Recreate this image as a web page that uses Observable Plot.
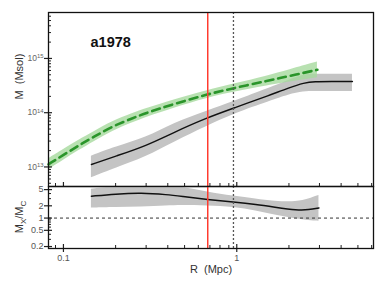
<!DOCTYPE html>
<html><head><meta charset="utf-8">
<script src="https://cdn.jsdelivr.net/npm/d3@7"></script>
<script src="https://cdn.jsdelivr.net/npm/@observablehq/plot@0.6"></script>
<style>
body{margin:0;background:#fff;}
#c{position:relative;width:385px;height:289px;font-family:"Liberation Sans",Arial,sans-serif;}
#c svg{position:absolute;left:0;overflow:visible;}
</style></head><body><div id="c"></div>
<script>
// ---------- text ----------
const title = "a1978";
const xLabel = "R\u00a0 (Mpc)";
const yLabel = "M\u00a0 (Msol)";
const ratioLabelParts = ["M", "X", "/M", "C"];
// ---------- ticks ----------
const xTickValues = [0.1, 1];
const xTickLabels = ["0.1", "1"];
const xMinorTicks = [0.09, 0.2, 0.3, 0.4, 0.5, 0.6, 0.7, 0.8, 0.9, 2, 3, 4, 5, 6];
const yTickValues = [1e13, 1e14, 1e15];
const yTickLabels = ["10^13", "10^14", "10^15"];
const yMinorTicks = [5e12, 6e12, 7e12, 8e12, 9e12, 2e13, 3e13, 4e13, 5e13, 6e13, 7e13, 8e13, 9e13,
  2e14, 3e14, 4e14, 5e14, 6e14, 7e14, 8e14, 9e14, 2e15, 3e15, 4e15, 5e15, 6e15];
const ratioTickValues = [0.2, 0.5, 1, 2, 5];
const ratioTickLabels = ["0.2", "0.5", "1", "2", "5"];
const ratioMinorTicks = [0.3, 0.4, 0.6, 0.7, 0.8, 0.9, 3, 4];
// ---------- data ----------
// green dashed profile with band
const greenR  = [0.082, 0.1, 0.123, 0.15, 0.192, 0.25, 0.3, 0.435, 0.677, 0.965, 1.5, 2.0, 2.92];
const greenM  = [1.12e13, 1.66e13, 2.51e13, 3.60e13, 5.62e13, 7.89e13, 9.89e13, 1.45e14, 2.19e14, 2.85e14, 3.85e14, 4.73e14, 6.17e14];
const greenLo = [8.87e12, 1.32e13, 2.02e13, 2.92e13, 4.57e13, 6.49e13, 8.22e13, 1.22e14, 1.86e14, 2.40e14, 3.13e14, 3.67e14, 4.42e14];
const greenHi = [1.41e13, 2.09e13, 3.13e13, 4.43e13, 6.92e13, 9.59e13, 1.19e14, 1.72e14, 2.57e14, 3.39e14, 4.73e14, 6.10e14, 8.61e14];
// black profile with grey band
const blackR  = [0.145, 0.2, 0.3, 0.435, 0.677, 0.965, 1.57, 2.0, 2.45, 2.8, 3.5, 4.65];
const blackM  = [1.11e13, 1.58e13, 2.45e13, 4.37e13, 8.13e13, 1.22e14, 2.14e14, 2.88e14, 3.55e14, 3.76e14, 3.76e14, 3.76e14];
const blackLo = [6.3e12, 9.5e12, 1.51e13, 2.88e13, 5.62e13, 9.55e13, 1.62e14, 2.14e14, 2.45e14, 2.45e14, 2.45e14, 2.45e14];
const blackHi = [1.58e13, 2.34e13, 3.39e13, 6.46e13, 1.07e14, 1.62e14, 2.88e14, 3.98e14, 5.13e14, 5.13e14, 5.13e14, 5.13e14];
// ratio panel
const ratioR  = [0.145, 0.2, 0.28, 0.4, 0.475, 0.68, 0.96, 1.3, 1.64, 2.24, 2.6, 2.98];
const ratioV  = [3.44, 3.9, 4.2, 3.75, 3.43, 2.85, 2.48, 2.15, 1.87, 1.55, 1.6, 1.77];
const ratioLo = [1.77, 1.82, 1.87, 1.98, 2.06, 1.98, 1.87, 1.5, 1.2, 0.93, 0.87, 0.84];
const ratioHi = [5.1, 5.9, 6.5, 6.3, 5.9, 4.3, 3.43, 2.95, 2.55, 2.45, 2.9, 3.6];
// reference lines
const rRed = 0.68;
const rDashed = 0.957;
const ratioRef = 1;

// ---------- layout ----------
const W = 385, ML = 48, MR = 12;
const xDomain = [0.082, 6.15];
const font = "'Liberation Sans', Arial, sans-serif";
const tickColor = "#222";
const redColor = "#ff3b2f";
const idx = a => a.map((_, i) => i);
const plotW = W - ML - MR;

const topH = 187, topMT = 12, topMB = 1;
const topFrameH = topH - topMT - topMB;

const topPlot = Plot.plot({
  width: W, height: topH, marginLeft: ML, marginRight: MR, marginTop: topMT, marginBottom: topMB,
  style: {fontFamily: font, background: "transparent", overflow: "visible"},
  x: {type: "log", domain: xDomain, axis: null},
  y: {type: "log", domain: [4.36e12, 7.03e15], axis: null},
  marks: [
    Plot.areaY(idx(blackR), {x: i => blackR[i], y1: i => blackLo[i], y2: i => blackHi[i], fill: "#c4c4c4", curve: "basis"}),
    Plot.areaY(idx(greenR), {x: i => greenR[i], y1: i => greenLo[i], y2: i => greenHi[i], fill: "#a6da9e", fillOpacity: 0.8, curve: "basis"}),
    Plot.lineY(idx(blackR), {x: i => blackR[i], y: i => blackM[i], stroke: "#111", strokeWidth: 1.4, curve: "basis"}),
    Plot.lineY(idx(greenR), {x: i => greenR[i], y: i => greenM[i], stroke: "#2a952a", strokeWidth: 2.6, strokeDasharray: "8,5", curve: "basis"}),
    Plot.ruleX([rRed], {stroke: redColor, strokeWidth: 1.5}),
    Plot.ruleX([rDashed], {stroke: "#555", strokeWidth: 1.3, strokeDasharray: "2,2"}),
    Plot.tickY(yMinorTicks, {insetRight: plotW - 3, stroke: tickColor}),
    Plot.tickY(yTickValues, {insetRight: plotW - 4, insetLeft: -4, stroke: tickColor, strokeWidth: 1.2}),
    Plot.tickX(xMinorTicks, {insetTop: topFrameH - 3, stroke: tickColor}),
    Plot.tickX(xTickValues, {insetTop: topFrameH - 4, stroke: tickColor, strokeWidth: 1.2}),
    Plot.text(idx(yTickValues), {y: i => yTickValues[i], text: i => yTickLabels[i], frameAnchor: "left", dx: -5, textAnchor: "end", fontSize: 8.5, fill: "#666"}),
    Plot.text([yLabel], {frameAnchor: "left", dx: -29, rotate: -90, fontSize: 11, fill: "#333", lineAnchor: "middle"}),
    Plot.text([title], {frameAnchor: "top-left", dx: 42, dy: 24, fontSize: 14.5, fontWeight: "bold", textAnchor: "start", lineAnchor: "top", fill: "#111"}),
    Plot.frame({stroke: "#111", strokeWidth: 1.3})
  ]
});

const botH = 103, botMT = 0, botMB = 41;
const botFrameH = botH - botMT - botMB;
const botPlot = Plot.plot({
  width: W, height: botH, marginLeft: ML, marginRight: MR, marginTop: botMT, marginBottom: botMB,
  style: {fontFamily: font, background: "transparent", overflow: "visible"},
  x: {type: "log", domain: xDomain, axis: null},
  y: {type: "log", domain: [0.179, 5.96], axis: null},
  marks: [
    Plot.areaY(idx(ratioR), {x: i => ratioR[i], y1: i => ratioLo[i], y2: i => ratioHi[i], fill: "#c4c4c4", curve: "basis", clip: true}),
    Plot.lineY(idx(ratioR), {x: i => ratioR[i], y: i => ratioV[i], stroke: "#111", strokeWidth: 1.5, curve: "basis"}),
    Plot.ruleY([ratioRef], {stroke: "#333", strokeWidth: 1, strokeDasharray: "3,3"}),
    Plot.ruleX([rRed], {stroke: redColor, strokeWidth: 1.5}),
    Plot.ruleX([rDashed], {stroke: "#555", strokeWidth: 1.3, strokeDasharray: "2,2"}),
    Plot.tickY(ratioMinorTicks, {insetRight: plotW - 3, stroke: tickColor}),
    Plot.tickY(ratioTickValues, {insetRight: plotW - 4, insetLeft: -4, stroke: tickColor, strokeWidth: 1.2}),
    Plot.tickX(xMinorTicks, {insetTop: botFrameH - 3, stroke: tickColor}),
    Plot.tickX(xTickValues, {insetTop: botFrameH - 4, insetBottom: -4, stroke: tickColor, strokeWidth: 1.2}),
    Plot.text(idx(ratioTickValues), {y: i => ratioTickValues[i], text: i => ratioTickLabels[i], frameAnchor: "left", dx: -5, textAnchor: "end", fontSize: 9, fill: "#555"}),
    Plot.text(idx(xTickValues), {x: i => xTickValues[i], text: i => xTickLabels[i], frameAnchor: "bottom", dy: 6, lineAnchor: "top", fontSize: 9, fill: "#555"}),
    Plot.text([xLabel], {frameAnchor: "bottom", dy: 21, fontSize: 11, fill: "#333", lineAnchor: "middle"}),
    Plot.frame({stroke: "#111", strokeWidth: 1.3})
  ]
});

const c = document.getElementById("c");
topPlot.style.top = "0px";
botPlot.style.top = "186px";
c.appendChild(topPlot);
c.appendChild(botPlot);

// superscripts for 10^n labels
d3.select(topPlot).selectAll("text").each(function () {
  const t = d3.select(this); const s = t.text();
  if (!s.includes("^")) return;
  const [b, e] = s.split("^");
  t.text(b);
  t.append("tspan").attr("dy", "-0.45em").attr("font-size", "0.7em").text(e);
});

// Mx/Mc label with subscripts
const lab = d3.select(botPlot).append("text")
  .attr("transform", `translate(23, ${botMT + botFrameH / 2}) rotate(-90)`)
  .attr("text-anchor", "middle").attr("font-size", 11).attr("fill", "#333")
  .attr("font-family", font);
lab.append("tspan").text(ratioLabelParts[0]);
lab.append("tspan").attr("font-size", 8).attr("dy", 3).text(ratioLabelParts[1]);
lab.append("tspan").attr("dy", -3).text(ratioLabelParts[2]);
lab.append("tspan").attr("font-size", 8).attr("dy", 3).text(ratioLabelParts[3]);
</script>
</body></html>
